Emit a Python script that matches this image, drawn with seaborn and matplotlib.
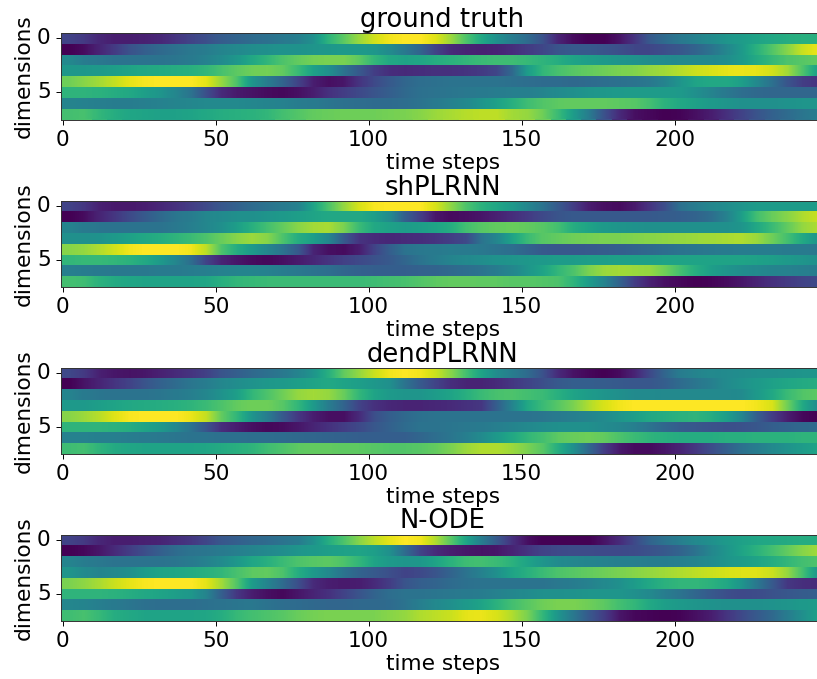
import numpy as np
import matplotlib
matplotlib.use('Agg')
import matplotlib.pyplot as plt
from matplotlib.patches import Rectangle
import seaborn as sns

# values, one column per 5 time steps (colour level 0-100)
ground_truth = [
    [20,17,11,8,8,9,11,15,20,24, 29,32,35,37,40,43,50,65,75,85, 93,98,100,100,95,85,72,60,50,42, 35,25,10,3,0,0,5,15,28,35, 40,44,48,52,55,58,60,62,63,63],
    [0,3,10,17,25,30,34,37,40,42, 45,47,49,50,51,51,52,53,54,54, 53,48,40,32,20,12,10,9,10,13, 17,21,26,28,28,26,24,21,21,24, 27,32,38,46,54,64,73,82,92,97],
    [47,42,40,38,38,38,38,39,41,44, 48,53,60,66,72,76,79,80,80,75, 66,60,58,59,62,64,66,68,69,69, 67,65,62,58,56,54,52,51,49,48, 47,47,47,49,54,61,67,72,74,76],
    [53,53,54,56,58,60,61,62,63,66, 71,75,78,79,76,68,57,50,38,28, 18,13,12,13,14,14,15,17,21,34, 55,66,71,74,76,78,80,81,84,86, 89,92,94,96,97,96,93,86,72,56],
    [78,82,86,91,96,99,100,100,100,96, 84,72,52,42,32,20,8,4,6,15, 22,28,33,36,37,38,38,38,38,37, 36,35,35,34,35,36,37,38,40,45, 52,58,60,60,56,47,37,26,18,15],
    [65,65,64,62,60,56,52,46,38,24, 12,7,5,3,2,4,8,14,18,22, 26,30,34,37,38,39,40,41,42,43, 43,45,48,50,52,53,54,55,55,55, 54,50,45,40,36,34,33,33,33,33],
    [45,44,43,42,42,43,44,45,46,47, 47,47,46,45,44,42,41,39,37,36, 35,35,36,38,41,44,47,52,57,63, 69,73,75,76,76,76,75,74,70,64, 60,57,54,52,50,50,50,51,52,52],
    [70,71,66,62,59,58,57,57,58,60, 62,63,64,66,70,73,76,77,78,78, 78,79,80,82,85,87,89,90,90,86, 84,78,68,55,42,25,12,4,2,0, 1,4,8,14,20,26,31,35,39,42],
]
shplrnn = [
    [20,16,9,7,7,8,11,14,18,22, 27,31,35,38,41,44,58,72,84,94, 99,100,100,100,94,83,72,64,59,54, 46,38,28,18,8,4,3,7,15,24, 37,42,46,49,52,55,55,55,55,55],
    [0,3,10,16,22,28,34,39,42,46, 48,50,50,52,54,56,58,60,60,60, 56,48,30,18,6,3,4,6,9,13, 17,22,26,28,28,28,28,28,28,29, 30,32,36,44,56,70,77,82,88,92],
    [45,41,39,38,38,38,38,40,43,46, 50,56,63,70,76,82,86,87,80,68, 60,57,55,56,58,62,70,74,76,77, 76,74,70,62,58,54,52,51,50,50, 50,50,50,50,52,60,68,76,84,88],
    [50,50,51,54,57,60,62,65,68,72, 77,82,85,82,72,62,56,46,28,15, 12,11,12,13,15,18,22,38,46,58, 68,74,76,78,79,80,80,81,82,83, 84,85,86,87,88,85,78,70,60,52],
    [82,84,88,93,98,100,100,100,98,90, 72,62,54,46,38,28,10,4,3,8, 20,30,38,40,41,42,41,40,38,36, 32,28,27,27,28,29,30,32,34,36, 38,39,40,41,42,42,42,41,41,40],
    [66,67,67,66,64,60,54,46,36,20, 10,6,3,2,4,7,11,15,19,22, 25,28,33,38,42,45,47,49,51,52, 53,54,55,55,56,56,57,57,57,58, 58,58,58,58,58,57,56,54,52,50],
    [43,42,41,40,40,40,41,41,42,43, 44,45,45,44,42,40,38,36,33,31, 30,30,30,31,32,34,36,38,42,46, 52,58,66,72,80,85,86,85,84,78, 70,62,56,52,49,47,45,44,43,42],
    [70,69,64,61,59,58,58,58,58,59, 63,66,67,68,68,68,68,68,68,68, 69,70,71,73,75,76,76,75,75,74, 74,73,72,65,55,45,32,18,9,4, 2,0,1,3,6,10,14,17,20,22],
]
dendplrnn = [
    [22,17,9,6,5,6,9,12,15,19, 26,30,34,37,40,45,52,63,76,84, 92,98,100,98,92,82,70,58,48,42, 35,25,12,5,2,0,3,10,22,33, 42,45,47,48,49,50,50,51,52,52],
    [0,5,10,15,20,26,31,35,39,42, 46,49,51,53,54,56,58,60,58,56, 53,50,38,28,20,13,10,10,12,16, 20,24,28,30,30,29,28,27,27,30, 35,39,43,48,51,54,57,59,61,62],
    [45,41,39,38,38,38,39,41,43,46, 51,56,66,72,78,84,86,84,77,66, 58,54,52,52,55,58,63,68,71,72, 70,68,63,58,55,52,50,48,48,47, 47,47,47,47,48,54,60,68,73,75],
    [54,54,56,58,60,61,62,63,65,68, 72,76,78,78,74,66,54,42,32,20, 14,11,10,10,11,12,14,16,30,45, 60,68,74,80,88,94,98,100,100,100, 100,100,100,100,100,98,94,78,60,48],
    [82,85,89,95,99,100,100,100,97,91, 76,66,52,42,28,16,8,4,4,12, 24,30,34,37,38,38,38,38,38,38, 38,39,41,43,45,48,52,56,60,62, 64,65,62,56,46,30,18,8,2,0],
    [65,65,65,64,62,58,54,47,38,26, 13,8,4,2,3,6,10,14,18,22, 27,31,35,38,38,39,40,41,43,45, 47,49,50,50,50,48,46,43,38,33, 29,27,25,24,25,27,30,32,34,35],
    [44,44,43,43,42,41,40,39,38,38, 37,37,36,36,35,34,33,32,31,30, 30,30,30,33,36,39,43,48,54,60, 66,70,75,77,78,76,72,68,65,63, 62,62,62,63,63,64,64,64,65,65],
    [69,70,65,61,59,58,58,58,58,59, 61,63,65,69,72,75,76,76,75,75, 74,73,73,74,76,80,85,88,88,85, 80,74,62,50,34,18,7,3,3,6, 10,16,23,30,37,42,47,51,55,58],
]
node = [
    [20,17,11,8,8,9,10,13,16,21, 27,30,33,35,38,41,50,62,72,82, 90,96,100,98,88,74,58,42,28,14, 4,0,0,0,0,5,12,22,32,38, 43,47,50,54,57,59,60,61,62,62],
    [0,2,6,12,18,24,30,35,38,39, 41,43,45,47,49,52,54,56,57,58, 56,50,35,20,12,8,6,5,6,10, 15,20,22,23,23,22,22,23,25,28, 32,38,46,52,58,64,70,76,82,86],
    [45,42,40,38,38,38,38,39,41,44, 48,53,59,63,68,72,74,75,72,66, 58,54,52,53,58,64,69,70,68,64, 58,52,48,46,45,44,43,43,42,42, 43,45,48,52,55,58,62,66,70,72],
    [52,48,45,47,50,55,58,59,61,63, 66,71,75,76,72,62,54,47,38,32, 28,24,20,22,26,32,38,44,50,58, 63,68,72,74,76,78,80,82,84,86, 88,90,92,94,95,95,92,84,70,52],
    [80,83,87,92,96,99,100,100,100,96, 86,73,55,45,35,24,12,8,7,8, 12,18,26,30,32,35,37,38,38,38, 38,38,40,42,44,47,50,55,60,64, 66,66,64,60,52,40,28,16,13,12],
    [65,65,65,64,62,60,58,56,53,45, 30,16,8,4,2,6,10,14,20,26, 32,36,38,38,39,40,41,42,44,46, 48,50,50,51,52,52,52,50,47,42, 38,33,28,24,22,23,25,27,29,30],
    [46,45,43,41,39,37,36,36,36,37, 38,39,40,38,36,35,34,33,33,34, 34,35,38,43,47,50,54,58,64,70, 74,78,80,80,78,75,70,66,60,56, 54,52,51,50,50,50,51,52,54,55],
    [69,71,67,62,60,58,58,58,58,59, 62,67,70,72,74,77,79,80,80,80, 80,82,84,88,90,92,96,97,94,88, 80,66,52,40,28,18,6,2,1,0, 1,4,8,15,22,28,34,42,50,57],
]

titles = ['ground truth', 'shPLRNN', 'dendPLRNN', 'N-ODE']
panels = [ground_truth, shplrnn, dendplrnn, node]
time_ticks = [0, 50, 100, 150, 200]
dim_ticks = [0, 5]
steps_per_col = 5

W, H = 817, 679
tops = [33, 200.5, 367.5, 534.5]

fig = plt.figure(figsize=(W / 100, H / 100), dpi=100)
for title, data, top in zip(titles, panels, tops):
    # the reference is cut off at the right, so the axes run past the figure
    ax = fig.add_axes([61 / W, 1 - (top + 86.5) / H, 765 / W, 86.5 / H])
    arr = np.array(data)
    n_cols = arr.shape[1]
    sns.heatmap(arr, cmap='viridis', vmin=0, vmax=100, cbar=False, ax=ax)
    xlim, ylim = ax.get_xlim(), ax.get_ylim()
    # smooth each row along time only, rows stay separate bands
    for r, row in enumerate(arr):
        im = ax.imshow(np.tile(row, (3, 1)), cmap='viridis', vmin=0, vmax=100, aspect='auto', zorder=2,
                       interpolation='bilinear', extent=(0, n_cols, r + 2, r - 1))
        im.set_clip_path(Rectangle((0, r), n_cols, 1, transform=ax.transData))
    ax.set_xlim(xlim)
    ax.set_ylim(ylim)
    ax.set_xticks([(t + 0.5) / steps_per_col for t in time_ticks])
    ax.set_xticklabels(time_ticks, rotation=0)
    ax.set_yticks([d + 0.5 for d in dim_ticks])
    ax.set_yticklabels(dim_ticks, rotation=0)
    ax.tick_params(labelsize=15.6, length=3.5, width=0.7, colors='black', pad=4)
    for s in ax.spines.values():
        s.set_visible(True)
        s.set_linewidth(0.7)
        s.set_color('#333333')
    ax.set_xlabel('time steps', fontsize=15.6, labelpad=2)
    ax.set_ylabel('dimensions', fontsize=15.6, labelpad=2.5)
    fig.text(442.5 / W, 1 - top / H, title, fontsize=18.6, ha='center', va='bottom')

fig.savefig('out.png', dpi=100)
